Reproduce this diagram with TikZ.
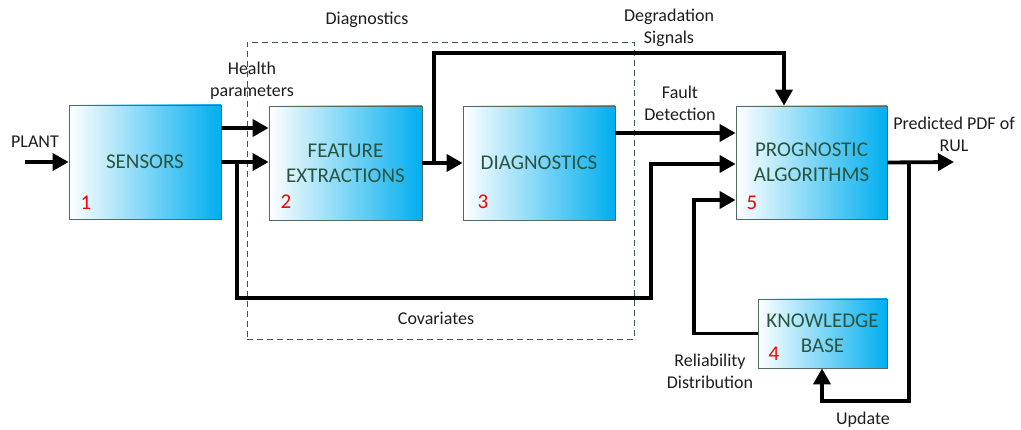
\documentclass[tikz,border=0pt]{standalone}
\usepackage{fontspec}
\setmainfont{Carlito}
\usetikzlibrary{arrows.meta}
\definecolor{boxtext}{RGB}{40,85,65}
\definecolor{boxedge}{RGB}{80,110,95}
\definecolor{boxblue}{RGB}{0,174,239}
\definecolor{framecol}{RGB}{60,90,75}
\definecolor{labelcol}{RGB}{30,30,30}
\tikzset{
  blockbox/.style={draw=boxedge, line width=0.8pt, left color=white, right color=boxblue,
    text=boxtext, align=center, inner sep=0pt,
    font=\fontsize{21}{25}\selectfont},
  tag/.style={text=red, inner sep=0pt, font=\fontsize{21}{25}\selectfont},
  lbl/.style={text=labelcol, align=center, inner sep=0pt, font=\fontsize{18}{22}\selectfont},
  frame/.style={draw=framecol, line width=0.9pt, dash pattern=on 6pt off 4pt},
  arr/.style={line width=3.8pt, -{Triangle[length=16pt,width=17pt]}},
  wire/.style={line width=3.8pt}
}
\begin{document}
\begin{tikzpicture}[x=1pt,y=-1pt]
  \useasboundingbox (0,0) rectangle (1021,430);
  \fill[white] (0,0) rectangle (1021,430);

  % dashed frame around the diagnostics stage
  \node[frame, minimum width=387pt, minimum height=297pt, inner sep=0pt] (frm) at (440.5,190.5) {};

  % processing blocks
  \node[blockbox, minimum width=152pt, minimum height=114pt] (s) at (145,162) {SENSORS};
  \node[blockbox, minimum width=153pt, minimum height=114pt] (f) at (345.5,163) {FEATURE\\EXTRACTIONS};
  \node[blockbox, minimum width=152pt, minimum height=114pt] (d) at (539,163) {DIAGNOSTICS};
  \node[blockbox, minimum width=151pt, minimum height=113pt] (p) at (811.5,162.5) {PROGNOSTIC\\ALGORITHMS};
  \node[blockbox, minimum width=129pt, minimum height=69pt] (k) at (822.5,333.5) {KNOWLEDGE\\BASE};

  % block numbers
  \node[tag] (t1) at (86,203) {1};
  \node[tag] (t2) at (286,202) {2};
  \node[tag] (t3) at (483,202) {3};
  \node[tag] (t5) at (752,203) {5};
  \node[tag] (t4) at (774,354) {4};

  % connection points
  \coordinate (plantin) at (25,162);
  \coordinate (c1) at (237,162);
  \coordinate (c2) at (651,298);
  \coordinate (g1) at (434,163);
  \coordinate (dg) at (784,53);
  \coordinate (r1) at (694,200);
  \coordinate (u1) at (909,162);
  \coordinate (u2) at (822,401);
  \coordinate (out) at (954,162);

  % signal flow
  \draw[arr] (plantin) -- (s.west);
  \draw[arr] ([yshift=34pt]s.east) -- ([yshift=34pt]s.east -| f.west);
  \draw[arr] (s.east) -- (s.east -| f.west);
  \draw[arr] (c1) |- (c2) |- ([yshift=-1.5pt]p.west);
  \draw[arr] (f.east) -- (d.west);
  \draw[arr] (g1) |- (dg) -- (dg |- p.north);
  \draw[arr] ([yshift=30pt]d.east) -- ([yshift=30pt]d.east -| p.west);
  \draw[arr] (k.west) -| (r1) -- (r1 -| p.west);
  \draw[arr] (p.east) -- (out);
  \draw[arr] (u1) |- (u2) -- (u2 |- k.south);

  % labels
  \node[lbl] (lplant) at (35,142) {PLANT};
  \node[lbl] (lhealth) at (252,81) {Health\\parameters};
  \node[lbl] (ldiag) at (367,20) {Diagnostics};
  \node[lbl] (ldeg) at (669,28) {Degradation\\Signals};
  \node[lbl] (lfault) at (680,103) {Fault\\Detection};
  \node[lbl] (lpdf) at (954,134) {Predicted PDF of\\RUL};
  \node[lbl] (lcov) at (436,318) {Covariates};
  \node[lbl] (lrel) at (710,371) {Reliability\\Distribution};
  \node[lbl] (lupd) at (863,420) {Update};
\end{tikzpicture}
\end{document}
